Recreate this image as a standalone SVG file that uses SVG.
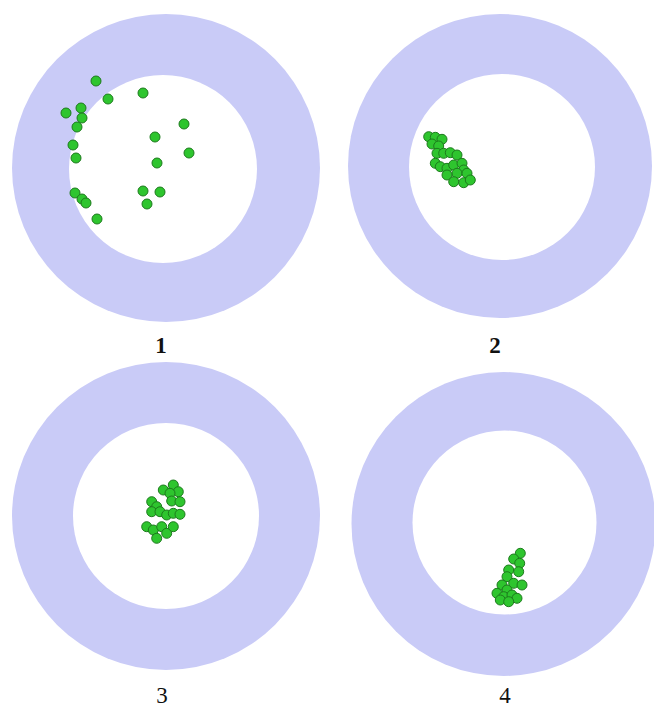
<svg xmlns="http://www.w3.org/2000/svg" width="654" height="709" viewBox="0 0 654 709">
<style>
.ring{fill:#c9cbf7}
.hole{fill:#ffffff}
.d{fill:#2ec52e;stroke:#1d7a1d;stroke-width:1}
.lb{font-family:"Liberation Serif","DejaVu Serif",serif;font-size:23px;fill:#111;text-anchor:middle}
</style>
<rect width="654" height="709" fill="#ffffff"/>
<g id="target1">
<circle class="ring" cx="166" cy="168" r="154"/>
<circle class="hole" cx="163" cy="169" r="94"/>
<g>
<circle class="d" cx="96" cy="81" r="5"/>
<circle class="d" cx="108" cy="99" r="5"/>
<circle class="d" cx="143" cy="93" r="5"/>
<circle class="d" cx="66" cy="113" r="5"/>
<circle class="d" cx="81" cy="108" r="5"/>
<circle class="d" cx="82" cy="118" r="5"/>
<circle class="d" cx="77" cy="127" r="5"/>
<circle class="d" cx="184" cy="124" r="5"/>
<circle class="d" cx="155" cy="137" r="5"/>
<circle class="d" cx="73" cy="145" r="5"/>
<circle class="d" cx="76" cy="158" r="5"/>
<circle class="d" cx="189" cy="153" r="5"/>
<circle class="d" cx="157" cy="163" r="5"/>
<circle class="d" cx="75" cy="193" r="5"/>
<circle class="d" cx="82" cy="199" r="5"/>
<circle class="d" cx="86" cy="203" r="5"/>
<circle class="d" cx="143" cy="191" r="5"/>
<circle class="d" cx="160" cy="192" r="5"/>
<circle class="d" cx="147" cy="204" r="5"/>
<circle class="d" cx="97" cy="219" r="5"/>
</g>
<text class="lb" x="161" y="353" font-weight="bold">1</text>
</g>
<g id="target2">
<circle class="ring" cx="500" cy="166" r="152"/>
<circle class="hole" cx="502" cy="167" r="93"/>
<g>
<circle class="d" cx="428.7" cy="136.7" r="5"/>
<circle class="d" cx="435.3" cy="137.3" r="5"/>
<circle class="d" cx="442" cy="139.3" r="5"/>
<circle class="d" cx="432" cy="144" r="5"/>
<circle class="d" cx="438.7" cy="146" r="5"/>
<circle class="d" cx="437" cy="153.3" r="5"/>
<circle class="d" cx="443.7" cy="153.3" r="5"/>
<circle class="d" cx="450.3" cy="152.7" r="5"/>
<circle class="d" cx="457" cy="155" r="5"/>
<circle class="d" cx="435.3" cy="163.3" r="5"/>
<circle class="d" cx="440.3" cy="166.7" r="5"/>
<circle class="d" cx="447" cy="168.3" r="5"/>
<circle class="d" cx="453.7" cy="165" r="5"/>
<circle class="d" cx="462" cy="163.3" r="5"/>
<circle class="d" cx="463.7" cy="170" r="5"/>
<circle class="d" cx="457" cy="173.3" r="5"/>
<circle class="d" cx="467" cy="173.3" r="5"/>
<circle class="d" cx="447" cy="175" r="5"/>
<circle class="d" cx="453.7" cy="181.7" r="5"/>
<circle class="d" cx="463.7" cy="182.7" r="5"/>
<circle class="d" cx="470.3" cy="180" r="5"/>
</g>
<text class="lb" x="495" y="353" font-weight="bold">2</text>
</g>
<g id="target3">
<circle class="ring" cx="166" cy="516" r="154"/>
<circle class="hole" cx="166" cy="516" r="93"/>
<g>
<circle class="d" cx="163.3" cy="490" r="5"/>
<circle class="d" cx="173.3" cy="485" r="5"/>
<circle class="d" cx="178.3" cy="491.7" r="5"/>
<circle class="d" cx="170" cy="493.3" r="5"/>
<circle class="d" cx="171.7" cy="501" r="5"/>
<circle class="d" cx="180" cy="501.7" r="5"/>
<circle class="d" cx="151.7" cy="501.7" r="5"/>
<circle class="d" cx="156.7" cy="506.7" r="5"/>
<circle class="d" cx="151.7" cy="511.7" r="5"/>
<circle class="d" cx="160" cy="511.7" r="5"/>
<circle class="d" cx="166.7" cy="515" r="5"/>
<circle class="d" cx="173.3" cy="513.3" r="5"/>
<circle class="d" cx="180" cy="514.3" r="5"/>
<circle class="d" cx="146.7" cy="526.7" r="5"/>
<circle class="d" cx="153.3" cy="530" r="5"/>
<circle class="d" cx="156.7" cy="538.3" r="5"/>
<circle class="d" cx="161.7" cy="526.7" r="5"/>
<circle class="d" cx="166.7" cy="533.3" r="5"/>
<circle class="d" cx="173.3" cy="526.7" r="5"/>
</g>
<text class="lb" x="162" y="703">3</text>
</g>
<g id="target4">
<circle class="ring" cx="503.5" cy="524" r="152"/>
<circle class="hole" cx="504.5" cy="522.5" r="92"/>
<g>
<circle class="d" cx="520.3" cy="553.3" r="5"/>
<circle class="d" cx="513.7" cy="559" r="5"/>
<circle class="d" cx="519.7" cy="563.3" r="5"/>
<circle class="d" cx="508.7" cy="570" r="5"/>
<circle class="d" cx="518.7" cy="571.7" r="5"/>
<circle class="d" cx="507" cy="576.7" r="5"/>
<circle class="d" cx="513.7" cy="583.3" r="5"/>
<circle class="d" cx="522" cy="585" r="5"/>
<circle class="d" cx="502" cy="585" r="5"/>
<circle class="d" cx="507" cy="590" r="5"/>
<circle class="d" cx="497" cy="593.3" r="5"/>
<circle class="d" cx="503.7" cy="596.7" r="5"/>
<circle class="d" cx="512" cy="595" r="5"/>
<circle class="d" cx="517" cy="598.3" r="5"/>
<circle class="d" cx="500.3" cy="600" r="5"/>
<circle class="d" cx="508.7" cy="601.7" r="5"/>
</g>
<text class="lb" x="505" y="703">4</text>
</g>
</svg>
